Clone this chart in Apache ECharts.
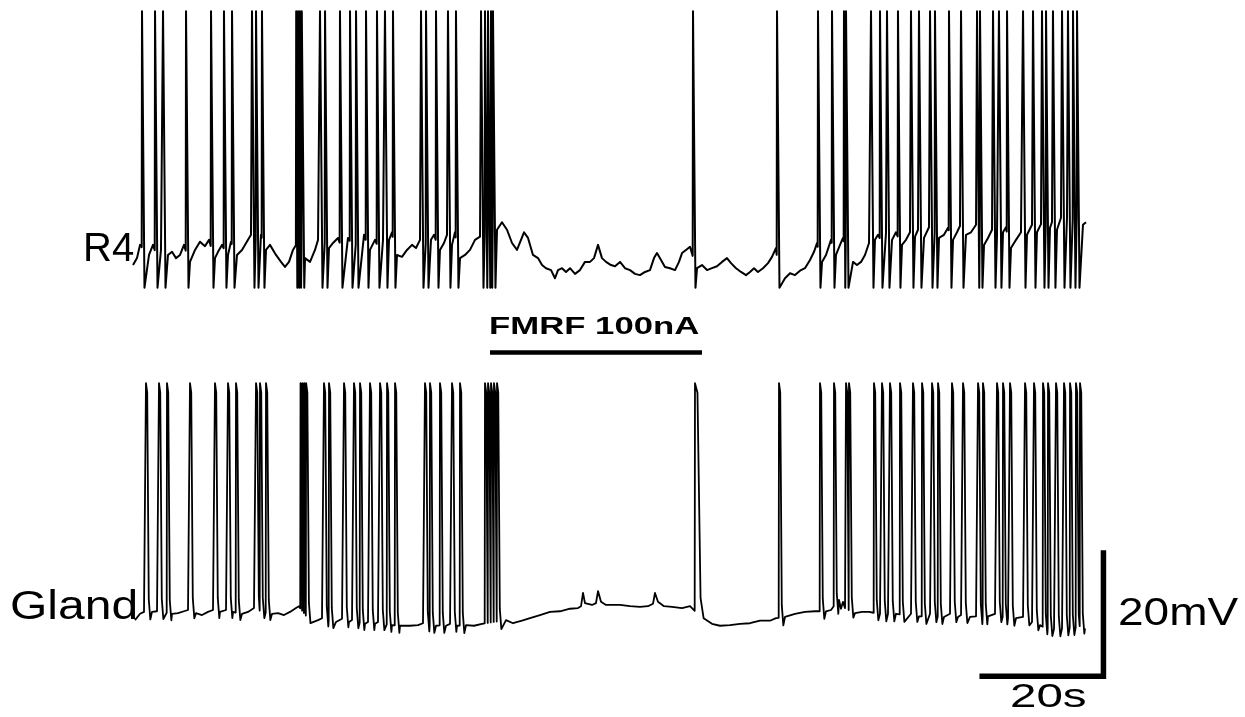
<!DOCTYPE html>
<html>
<head>
<meta charset="utf-8">
<script src="https://cdn.jsdelivr.net/npm/echarts@6.0.0/dist/echarts.min.js"></script>
<style>
html,body{margin:0;padding:0;background:#fff;}
#chart{width:1245px;height:717px;}
</style>
</head>
<body>
<div id="chart"></div>
<script>
// ---------- DATA (time in s, potential in mV relative to each trace's resting level) ----------
// R4 spike times (s)
const r4Spikes = [1.13,3.23,4.52,8.23,12.26,14.35,15.65,18.87,19.52,20.48,26.0,26.3,26.6,26.9,29.84,30.65,33.06,34.68,35.65,37.26,39.03,40.32,41.61,46.13,46.94,48.55,50.48,51.77,55.81,56.45,56.94,57.42,57.74,90.0,103.55,110.16,112.42,114.35,114.68,118.71,120.16,121.29,123.06,125.16,126.45,128.23,129.03,131.29,133.23,135.81,136.29,138.39,139.35,140.65,143.23,144.84,146.29,146.94,148.06,149.52,150.48,151.29,151.94];
// R4 membrane potential between spikes [s, mV]
const r4Baseline = [[-0.32,-0.8],[0.32,0.3],[0.81,2.4],[2.26,0.8],[2.90,2.4],[3.71,0.3],[4.19,1.6],[5.32,0.8],[5.97,1.3],[6.61,0.3],[7.26,0.8],[7.90,2.4],[8.87,-0.3],[9.68,1.6],[10.48,2.9],[11.29,2.2],[11.94,3.2],[12.90,0.3],[13.39,1.3],[14.03,2.4],[15.0,0.8],[15.48,2.9],[16.45,0.8],[17.26,1.6],[18.23,3.2],[18.71,4.0],[20.0,3.2],[20.32,4.0],[21.13,1.6],[21.77,2.4],[22.74,0.8],[23.55,-0.3],[24.19,-1.1],[24.84,-0.3],[25.48,1.6],[25.97,2.4],[27.42,0.3],[28.23,-0.3],[29.03,1.6],[29.52,3.2],[30.32,3.2],[31.29,1.9],[31.94,2.7],[32.74,3.5],[33.55,1.6],[34.35,3.5],[35.16,2.4],[36.13,2.4],[36.94,4.0],[37.90,1.6],[38.71,3.2],[39.52,1.6],[40.0,3.2],[40.97,3.2],[41.45,4.4],[42.26,0.8],[43.06,0.5],[43.87,1.6],[44.68,2.4],[45.32,1.9],[45.97,3.2],[46.61,2.4],[47.74,3.2],[48.23,4.0],[49.19,1.6],[49.84,2.7],[50.32,4.0],[51.13,2.4],[51.61,4.4],[52.42,0.3],[53.23,0.8],[54.03,1.6],[54.84,3.2],[55.65,3.7],[58.39,4.8],[59.19,6.0],[60.0,4.8],[60.81,2.7],[61.61,1.6],[62.26,3.2],[62.74,4.4],[63.39,3.5],[64.19,0.8],[65.0,0.3],[65.65,-0.8],[66.29,-1.3],[67.10,-1.6],[67.74,-2.9],[68.23,-1.6],[68.87,-1.3],[69.52,-1.9],[70.16,-1.3],[70.97,-2.2],[71.77,-1.6],[72.58,-0.3],[73.39,-0.3],[74.03,0.3],[74.68,2.4],[75.32,0.3],[75.97,-0.3],[76.77,-0.8],[77.42,-1.0],[78.23,-0.3],[79.03,-1.3],[79.84,-1.6],[80.65,-2.2],[81.45,-2.4],[82.26,-1.9],[83.06,-1.6],[83.71,0.3],[84.19,1.1],[84.84,0.0],[85.48,-1.1],[86.29,-1.3],[87.10,-1.6],[87.74,-0.3],[88.23,1.1],[88.87,1.6],[89.52,2.1],[90.65,-1.3],[91.45,-0.8],[92.26,-1.6],[93.06,-1.3],[93.87,-1.0],[94.68,-0.3],[95.48,0.3],[96.13,-0.5],[96.94,-1.3],[97.74,-1.9],[98.55,-2.4],[99.19,-1.9],[99.84,-1.3],[100.48,-1.9],[101.29,-1.3],[102.10,-0.5],[102.74,0.5],[103.39,1.9],[104.03,-2.4],[104.84,-2.9],[105.65,-2.1],[106.45,-2.4],[107.26,-1.7],[108.06,-1.3],[108.87,0.0],[109.52,1.3],[110.0,2.7],[110.81,-0.3],[111.45,0.8],[112.26,3.2],[113.06,0.8],[113.71,2.4],[114.19,3.5],[115.16,0.3],[115.81,-0.3],[116.45,-0.8],[117.10,-0.3],[117.74,0.8],[118.39,2.7],[119.35,3.2],[119.84,4.0],[120.65,2.7],[121.13,4.3],[122.10,3.2],[122.74,4.4],[123.71,2.4],[124.35,3.2],[125.0,4.4],[125.81,3.7],[126.29,4.8],[127.26,3.5],[128.06,5.2],[128.71,4.8],[129.68,3.5],[130.48,4.0],[131.13,5.1],[131.94,3.2],[132.58,4.4],[133.06,5.4],[134.03,4.0],[134.84,4.4],[135.65,5.6],[136.13,5.1],[136.94,2.4],[137.58,3.5],[138.23,4.8],[139.03,3.8],[140.0,4.4],[140.48,5.2],[141.29,1.9],[142.10,3.2],[142.90,4.4],[143.87,4.0],[144.68,5.6],[145.48,4.4],[146.13,5.7],[146.77,5.4],[147.58,5.1],[147.90,6.0],[148.71,4.8],[149.35,6.7],[150.0,5.6],[150.32,6.7],[150.97,6.0],[151.77,7.1],[152.42,6.7],[152.90,5.6],[153.39,6.0]];
const r4SpikePeak = 39.5;    // mV
const r4Undershoot = -4.4;   // mV

// Gland spike times (s)
const glandSpikes = [1.77,3.87,5.16,8.87,12.90,15.0,16.29,19.52,20.16,21.13,26.7,27.0,27.3,27.6,30.48,31.29,33.71,35.32,36.29,37.90,39.52,40.65,41.94,46.77,47.58,49.19,51.13,52.42,56.45,56.94,57.42,57.90,58.39,90.32,103.87,110.48,112.74,114.68,115.16,119.19,120.48,121.77,123.39,125.48,126.94,128.55,129.52,131.77,133.55,135.97,136.77,139.03,140.0,141.13,143.55,145.0,146.45,147.26,148.55,149.84,150.81,151.77,152.42];
const glandBroadSpikes = [90.32];
// Gland membrane potential between spikes [s, mV]
const glandBaseline = [[0.0,-1.6],[0.81,-0.6],[1.45,-0.3],[2.74,-0.3],[3.55,-0.2],[4.52,-0.3],[5.97,-0.6],[6.94,-0.5],[7.90,-0.2],[8.55,0],[9.84,-0.5],[10.81,-0.8],[11.77,-0.3],[12.58,0],[13.71,-0.3],[14.68,0],[15.81,-0.3],[17.26,-0.6],[18.23,-0.3],[19.19,0.3],[20.65,-0.3],[22.10,-0.6],[23.06,-0.5],[24.03,-0.8],[25.0,-0.3],[25.97,0.3],[26.45,0.6],[28.55,-2.1],[29.52,-1.6],[30.16,-1.3],[30.97,-1.6],[32.42,-1.9],[33.39,-1.4],[34.52,-1.9],[35.0,-1.6],[35.97,-1.9],[37.10,-2.2],[37.58,-1.9],[38.71,-2.2],[39.19,-1.9],[40.16,-2.2],[41.45,-2.4],[42.74,-2.5],[44.35,-2.5],[45.65,-2.4],[46.45,-2.1],[47.26,-2.4],[48.55,-2.5],[48.87,-2.4],[50.16,-2.5],[50.81,-2.2],[51.94,-2.5],[53.39,-2.4],[54.68,-2.5],[55.97,-2.2],[59.84,-1.6],[60.97,-2.1],[62.42,-1.7],[63.71,-1.3],[65.32,-0.8],[66.94,-0.3],[68.55,-0.2],[70.16,0.2],[71.45,0.3],[71.94,0.6],[72.26,2.7],[72.58,1.1],[73.71,0.8],[74.35,1.1],[74.68,3.0],[75.16,1.3],[75.97,0.8],[77.10,0.8],[78.23,0.8],[79.84,0.6],[81.45,0.5],[82.74,0.6],[83.55,1.0],[83.87,2.7],[84.35,1.3],[85.32,0.6],[86.61,0.5],[88.23,0.3],[89.52,0.6],[91.61,-1.3],[93.06,-2.2],[94.35,-2.5],[95.97,-2.4],[97.58,-2.2],[99.19,-2.1],[100.81,-1.7],[102.42,-1.7],[103.39,-1.3],[104.84,-1.1],[106.45,-0.6],[108.06,-0.3],[109.68,-0.2],[111.45,-0.2],[112.26,0],[113.55,1.6],[113.87,0.2],[114.19,1.3],[114.52,0.3],[116.13,-0.5],[117.26,-0.3],[118.39,-0.3],[120.16,-0.6],[121.45,-0.6],[122.74,-0.6],[124.19,-0.8],[125.16,-0.6],[126.45,-1.0],[127.74,-1.0],[128.23,-0.6],[129.19,-1.0],[130.48,-1.1],[131.45,-0.6],[132.74,-1.1],[133.23,-0.8],[134.68,-1.1],[135.65,-1.0],[136.45,-1.1],[137.58,-1.0],[138.71,-0.6],[139.68,-1.0],[140.81,-1.3],[142.10,-1.3],[143.23,-1.1],[144.35,-1.6],[144.68,-1.9],[145.97,-2.4],[146.94,-2.9],[148.23,-3.0],[149.52,-2.9],[150.48,-2.7],[151.45,-2.9],[152.26,-2.5],[153.23,-2.9]];
const glandSpikePeak = 36.0; // mV

// FMRF application (s) and its bar level (mV, R4 panel)
const fmrfOnOff = [57.26, 91.45];
const fmrfLevel = -14.7;
// Scale bars: 20 s and 20 mV (gland panel)
const scaleBarStart = [136.2, -10.5];
const scaleBarSeconds = 20;
const scaleBarMillivolts = 20;

// ---------- build traces ----------
function interp(base, t) {
  if (t <= base[0][0]) return base[0][1];
  for (let i = 1; i < base.length; i++) {
    if (base[i][0] >= t) {
      const a = base[i - 1], b = base[i];
      return a[1] + (b[1] - a[1]) * (t - a[0]) / (b[0] - a[0]);
    }
  }
  return base[base.length - 1][1];
}
function buildTrace(base, spikes, shape, winFn) {
  const pts = base.filter(p => !spikes.some(s => {
    const w = winFn(s);
    return p[0] >= s - w[0] && p[0] <= s + w[1];
  }));
  spikes.forEach((s, i) => {
    const next = i < spikes.length - 1 ? spikes[i + 1] : Infinity;
    const f = interp(base, s);
    shape(s, f, next).forEach(p => pts.push(p));
  });
  pts.sort((a, b) => a[0] - b[0]);
  return pts;
}
const r4Trace = buildTrace(r4Baseline, r4Spikes,
  (s, f, next) => [[s - 0.05, f], [s, r4SpikePeak], [Math.min(s + 0.4, next - 0.12), r4Undershoot]],
  s => [0.1, 0.5]);
const glandTrace = buildTrace(glandBaseline, glandSpikes,
  (s, f, next) => {
    const k = glandBroadSpikes.includes(s) ? 2 : 1;
    const out = [[s - 0.05, f], [s, glandSpikePeak]];
    [[0.2, glandSpikePeak - 1.5], [0.45, f + 2], [0.7, f - 1.2]].forEach(o => {
      if (s + o[0] * k < next - 0.08) out.push([s + o[0] * k, o[1]]);
    });
    return out;
  },
  s => glandBroadSpikes.includes(s) ? [0.1, 1.6] : [0.1, 0.8]);

const fmrfBar = [[fmrfOnOff[0], fmrfLevel], [fmrfOnOff[1], fmrfLevel]];
const scaleBar = [
  [scaleBarStart[0], scaleBarStart[1]],
  [scaleBarStart[0] + scaleBarSeconds, scaleBarStart[1]],
  [scaleBarStart[0] + scaleBarSeconds, scaleBarStart[1] + scaleBarMillivolts]
];

// ---------- chart ----------
const chart = echarts.init(document.getElementById('chart'), null, {renderer: 'canvas'});
const lineBase = {type: 'line', symbol: 'none', showSymbol: false, silent: true, animation: false, clip: false};
const font = 'Liberation Sans, Arial, sans-serif';
function label(text, x, y, size, sx, weight) {
  return {
    type: 'text', x: x, y: y, scaleX: sx, silent: true,
    style: {text: text, fill: '#000', font: (weight || 'normal') + ' ' + size + 'px ' + font,
      textAlign: 'left', textVerticalAlign: 'middle', align: 'left', verticalAlign: 'middle'}
  };
}
chart.setOption({
  backgroundColor: '#fff',
  animation: false,
  grid: [
    {left: 128.8, width: 998.2, top: 1.7, height: 359.1},
    {left: 128.8, width: 998.2, top: 376.9, height: 333.9}
  ],
  xAxis: [
    {gridIndex: 0, type: 'value', min: -1, max: 160, show: false},
    {gridIndex: 1, type: 'value', min: -1, max: 160, show: false}
  ],
  yAxis: [
    {gridIndex: 0, type: 'value', min: -16, max: 41, show: false},
    {gridIndex: 1, type: 'value', min: -16, max: 37, show: false}
  ],
  series: [
    Object.assign({}, lineBase, {name: 'R4', xAxisIndex: 0, yAxisIndex: 0, data: r4Trace,
      lineStyle: {color: '#000', width: 2.0, join: 'round'}}),
    Object.assign({}, lineBase, {name: 'Gland', xAxisIndex: 1, yAxisIndex: 1, data: glandTrace,
      lineStyle: {color: '#000', width: 1.8, join: 'round'}}),
    Object.assign({}, lineBase, {name: 'FMRF 100nA', xAxisIndex: 0, yAxisIndex: 0, data: fmrfBar,
      lineStyle: {color: '#000', width: 4.5, cap: 'butt'}}),
    Object.assign({}, lineBase, {name: 'scale', xAxisIndex: 1, yAxisIndex: 1, data: scaleBar,
      lineStyle: {color: '#000', width: 5.5, cap: 'butt', join: 'miter'}})
  ],
  graphic: [
    label('R4', 83, 250, 40, 1.0),
    label('Gland', 10, 608, 40, 1.2),
    label('FMRF 100nA', 489, 328, 23, 1.51, 'bold'),
    label('20mV', 1118, 615, 38, 1.21),
    label('20s', 1010, 698, 33, 1.44)
  ]
});
</script>
</body>
</html>
